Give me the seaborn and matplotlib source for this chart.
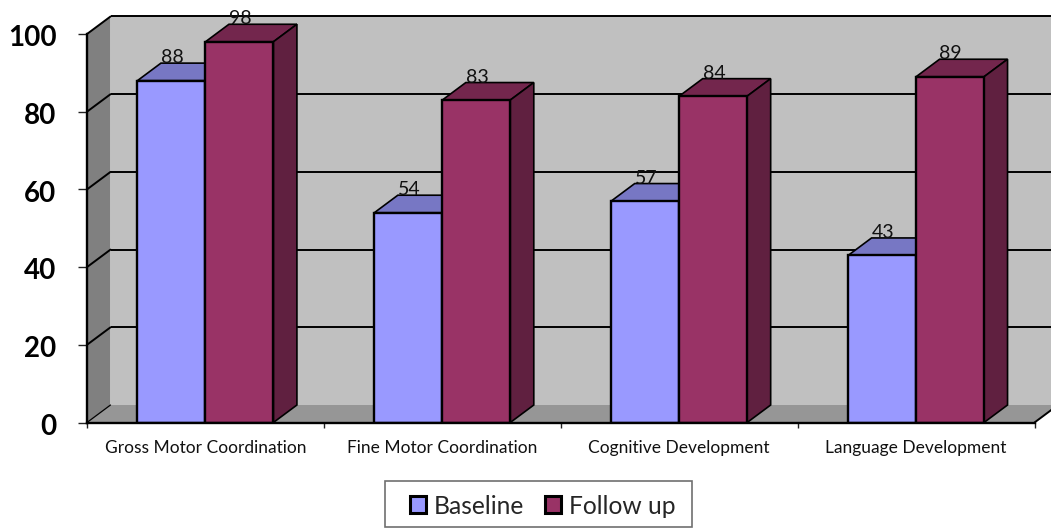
import matplotlib
matplotlib.use("Agg")
import matplotlib.pyplot as plt
import numpy as np
import pandas as pd
import seaborn as sns
from matplotlib.patches import Polygon, Rectangle
from matplotlib.transforms import ScaledTranslation

categories = ["Gross Motor Coordination", "Fine Motor Coordination",
              "Cognitive Development", "Language Development"]
baseline = [88, 54, 57, 43]
follow_up = [98, 83, 84, 89]
series_names = ["Baseline", "Follow up"]
y_ticks = [0, 20, 40, 60, 80, 100]

FRONT = {"Baseline": "#9999FF", "Follow up": "#993366"}
TOP = {"Baseline": "#7777C4", "Follow up": "#73264D"}
SIDE = {"Baseline": "#5F5F9F", "Follow up": "#602040"}

sns.set_theme(style="white")
plt.rcParams["font.family"] = ["Lato", "DejaVu Sans"]

W, H = 1051, 528
fig = plt.figure(figsize=(W / 100, H / 100), dpi=100, facecolor="white")
left, right, bottom, top = 87.0, 1034.5, 422.5, 34.0
ax = fig.add_axes([left / W, 1 - bottom / H, (right - left) / W, (bottom - top) / H])

df = pd.DataFrame({
    "category": categories * 2,
    "value": baseline + follow_up,
    "series": [series_names[0]] * 4 + [series_names[1]] * 4,
})
sns.barplot(data=df, x="category", y="value", hue="series", order=categories,
            hue_order=series_names, palette=FRONT, saturation=1, width=0.574,
            edgecolor="black", linewidth=1.7, ax=ax, zorder=5)

x0, x1 = -0.5, 3.5
ax.set_xlim(x0, x1)
ax.set_ylim(0, 100)

# Depth of the pseudo-3D box, converted from pixels into data units
ddx = 23.5 / ((right - left) / (x1 - x0))
ddy = 17.5 / ((bottom - top) / 100)
LW = 1.4


def face(points, color, z, edge="none", lw=0):
    ax.add_patch(Polygon(points, closed=True, facecolor=color, edgecolor=edge,
                         linewidth=lw, zorder=z, clip_on=False, joinstyle="miter"))


# Back wall, left wall and floor
face([(x0 + ddx, ddy), (x1 + ddx, ddy), (x1 + ddx, 100 + ddy), (x0 + ddx, 100 + ddy)], "#C0C0C0", 1)
face([(x0, 0), (x0 + ddx, ddy), (x0 + ddx, 100 + ddy), (x0, 100)], "#808080", 1.1)
face([(x0, 0), (x1, 0), (x1 + ddx, ddy), (x0 + ddx, ddy)], "#969696", 1.1)

# Gridlines run across the back wall and down the left wall
for v in y_ticks:
    if v > 0:
        ax.plot([x0 + ddx, x1 + ddx], [v + ddy, v + ddy], color="black", lw=LW, zorder=2,
                clip_on=False, solid_capstyle="butt")
    ax.plot([x0, x0 + ddx], [v, v + ddy], color="black", lw=LW if v else 0.9, zorder=2, clip_on=False)
ax.plot([x1, x1 + ddx], [0, ddy], color="black", lw=LW, zorder=2, clip_on=False)

# Extrude each bar: top and side faces, plus the value label
for name, container, z in zip(series_names, ax.containers, (3, 6)):
    for bar in container:
        bar.set_zorder(z + 1)
        xa, w, v = bar.get_x(), bar.get_width(), bar.get_height()
        xb = xa + w
        face([(xa, v), (xb, v), (xb + ddx, v + ddy), (xa + ddx, v + ddy)],
             TOP[name], z, "black", 1.2)
        face([(xb, 0), (xb + ddx, ddy), (xb + ddx, v + ddy), (xb, v)],
             SIDE[name], z, "black", 1.2)
        ax.annotate(f"{v:.0f}", xy=(xa + w / 2, v), xytext=(0.5, 16.5),
                    textcoords="offset points", ha="center", va="center",
                    fontsize=14, color="#111111", zorder=12, annotation_clip=False)

for side in ("top", "right"):
    ax.spines[side].set_visible(False)
for side in ("left", "bottom"):
    ax.spines[side].set_color("black")
    ax.spines[side].set_linewidth(1.7)
    ax.spines[side].set_zorder(9)

ax.set_xlabel("")
ax.set_ylabel("")
ax.set_yticks(y_ticks)
ax.set_yticklabels([str(v) for v in y_ticks], fontsize=20, fontweight="bold", color="black")
ax.tick_params(axis="y", left=True, length=6.5, width=1.0, color="#222222", pad=15.5)
ax.set_xticks(np.arange(len(categories)))
ax.set_xticklabels(categories, fontsize=12.5, color="#111111")
ax.set_xticks(np.arange(x0, x1 + 0.5), minor=True)
ax.tick_params(axis="x", which="major", bottom=False, length=0, pad=12.5)
ax.tick_params(axis="x", which="minor", bottom=True, length=3.5, width=1.0, color="#222222")
nudge_down = ScaledTranslation(0, -3 / 72, fig.dpi_scale_trans)
for lab in ax.get_yticklabels():
    lab.set_verticalalignment("center")
    lab.set_transform(lab.get_transform() + nudge_down)

# Legend entries laid over a plain box on the bottom edge of the figure
handles, labels = ax.get_legend_handles_labels()
ax.get_legend().remove()
fig.add_artist(Rectangle((385 / W, 0.7 / H), 307 / W, 46 / H, transform=fig.transFigure,
                         facecolor="white", edgecolor="#707070", linewidth=1.2, zorder=20))
leg = fig.legend(handles, labels, ncol=2, loc="center left",
                 bbox_to_anchor=(409.5 / W, 22 / H),
                 frameon=False, fontsize=17.7, handlelength=0.68, handleheight=0.68,
                 handletextpad=0.3, columnspacing=0.84, borderaxespad=0, borderpad=0)
leg.set_zorder(21)
for h in leg.legend_handles:
    h.set_edgecolor("black")
    h.set_linewidth(2.2)

fig.savefig("out.png", dpi=100, facecolor="white")
